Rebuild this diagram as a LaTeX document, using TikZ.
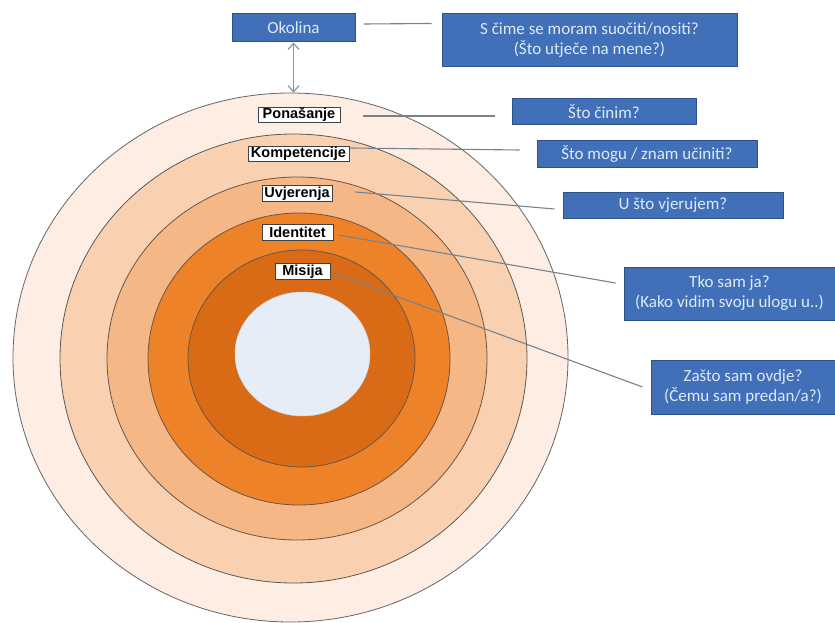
\documentclass[tikz,border=0pt]{standalone}
\usepackage{fontspec}
\setmainfont{Carlito}
\newfontfamily\arialfont{Liberation Sans}
\usetikzlibrary{shapes.geometric,arrows.meta}
\definecolor{bluefill}{HTML}{4170B8}
\definecolor{bluedark}{HTML}{2D5189}
\definecolor{bluetext}{HTML}{DDE9F7}
\definecolor{ringA}{HTML}{FDEDE2}
\definecolor{ringB}{HTML}{F9D0B0}
\definecolor{ringC}{HTML}{F6B786}
\definecolor{ringD}{HTML}{EE8229}
\definecolor{ringE}{HTML}{DA6B16}
\definecolor{core}{HTML}{E7EDF7}
\definecolor{linegray}{HTML}{76838F}
\definecolor{ringline}{HTML}{6A5548}
\begin{document}
\begin{tikzpicture}[x=1pt,y=-1pt,
  bluebox/.style={draw=bluedark, fill=bluefill, text=bluetext, line width=1pt,
    font=\fontsize{17}{20}\selectfont, align=center, inner sep=0pt},
  lab/.style={draw=black!75, fill=white, line width=0.8pt, inner sep=0pt,
    font=\arialfont\bfseries\fontsize{14.5}{16}\selectfont, minimum height=15.5pt},
  ring/.style={ellipse, draw=ringline, line width=0.8pt, inner sep=0pt},
  conn/.style={draw=linegray, line width=1.1pt}]
\useasboundingbox (0,0) rectangle (835,623);
\fill[white] (0,0) rectangle (835,623);
% rings
\node[ring, draw=gray!80!black, fill=ringA, minimum width=555pt, minimum height=529pt] (r1) at (290.5,357.5) {};
\node[ring, draw=gray!70!black, fill=ringB, minimum width=467pt, minimum height=449pt] (r2) at (293.5,358.5) {};
\node[ring, fill=ringC, minimum width=380pt, minimum height=363pt] (r3) at (297,358.5) {};
\node[ring, fill=ringD, minimum width=302pt, minimum height=292pt] (r4) at (299,359) {};
\node[ring, fill=ringE, minimum width=227pt, minimum height=217pt] (r5) at (301.5,358.5) {};
\node[ellipse, fill=core, draw=core!80!gray, line width=0.5pt, inner sep=0pt, minimum width=135pt, minimum height=124pt] (r6) at (302.5,354) {};
% labels
\node[lab, minimum width=82pt] (pon) at (299,115) {Ponašanje};
\node[lab, minimum width=101pt] (komp) at (298.5,154) {Kompetencije};
\node[lab, minimum width=70pt] (uvj) at (297,193.5) {Uvjerenja};
\node[lab, minimum width=71pt] (ide) at (297.5,232.5) {Identitet};
\node[lab, minimum width=55pt] (mis) at (302.5,271.5) {Misija};
% blue boxes
\node[bluebox, minimum width=123pt, minimum height=28pt] (oko) at (293.5,28) {Okolina};
\node[bluebox, minimum width=295pt, minimum height=53pt] (sc) at (589.5,40.5) {S čime se moram suočiti/nositi?\\(Što utječe na mene?)};
\node[bluebox, minimum width=184pt, minimum height=26pt] (cin) at (604,112) {Što činim?};
\node[bluebox, minimum width=220pt, minimum height=26pt] (mog) at (647,154) {Što mogu / znam učiniti?};
\node[bluebox, minimum width=220pt, minimum height=26pt] (vje) at (673,205) {U što vjerujem?};
\node[bluebox, minimum width=211pt, minimum height=53pt] (tko) at (729.5,293.5) {Tko sam ja?\\(Kako vidim svoju ulogu u..)};
\node[bluebox, minimum width=184pt, minimum height=54pt] (zas) at (743,387) {Zašto sam ovdje?\\(Čemu sam predan/a?)};
% connectors
\draw[conn] ([xshift=8pt,yshift=4pt]oko.east) -- ([xshift=-10pt,yshift=-10pt]sc.north west);
\draw[conn, draw=linegray!85, line width=1.2pt, {Straight Barb[length=6pt,width=11pt]}-{Straight Barb[length=6pt,width=11pt]}]
  (oko.south) -- (oko.south |- r1.north);
\draw[conn] ([xshift=23pt,yshift=-1pt]pon.east) -- ([xshift=-17pt,yshift=-4pt]cin.west);
\draw[conn] ([xshift=1pt,yshift=6pt]komp.east) -- ([xshift=-17pt,yshift=4pt]mog.west);
\draw[conn] ([xshift=23pt,yshift=1.5pt]uvj.east) -- ([xshift=-8pt,yshift=-4pt]vje.west);
\draw[conn] ([xshift=5pt,yshift=-2.5pt]ide.east) -- ([xshift=-8pt,yshift=10.5pt]tko.west);
\draw[conn] ([xshift=3pt,yshift=-1.5pt]mis.east) -- ([xshift=-8pt]zas.west);
\end{tikzpicture}
\end{document}
